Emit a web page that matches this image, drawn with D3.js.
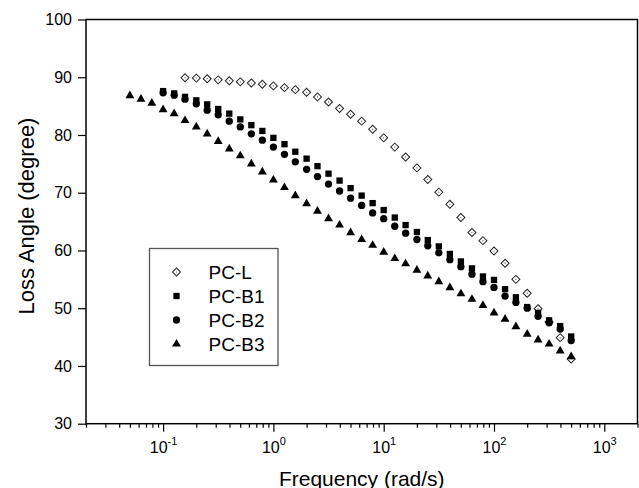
<!DOCTYPE html>
<html>
<head>
<meta charset="utf-8">
<script src="https://cdn.jsdelivr.net/npm/d3@7"></script>
<style>
  body { margin: 0; background: #fff; }
  svg { font-family: "Liberation Sans", Arial, sans-serif; }
</style>
</head>
<body>
<svg id="chart" width="639" height="488"></svg>
<script>
// frequencies (rad/s), 10 points per decade
const freq = [0.05, 0.063, 0.079, 0.1, 0.126, 0.158, 0.2, 0.251, 0.316, 0.398,
  0.501, 0.631, 0.794, 1, 1.26, 1.58, 2, 2.51, 3.16, 3.98,
  5.01, 6.31, 7.94, 10, 12.6, 15.8, 20, 25.1, 31.6, 39.8,
  50.1, 63.1, 79.4, 100, 126, 158, 200, 251, 316, 398, 501];

// loss angle (degree) for each sample
const pcL = [89.9, 89.85, 89.75, 89.55, 89.4, 89.2, 89.0, 88.8, 88.5, 88.2,
  87.85, 87.4, 86.6, 85.7, 84.6, 83.6, 82.4, 81.0, 79.5, 77.9,
  76.2, 74.3, 72.3, 70.1, 68.0, 65.7, 63.1, 61.7, 59.9, 57.8,
  55.0, 52.6, 49.9, 47.6, 44.9, 41.2];
const pcB1 = [87.6, 87.2, 86.6, 86.0, 85.3, 84.5, 83.7, 82.7, 81.7, 80.7,
  79.5, 78.4, 77.1, 75.9, 74.6, 73.3, 72.1, 70.8, 69.5, 68.2,
  67.0, 65.7, 64.4, 63.2, 61.8, 60.7, 59.4, 58.1, 56.9, 55.5,
  54.9, 53.3, 51.9, 50.2, 49.2, 47.9, 46.9, 45.1];
const pcB2 = [87.3, 86.9, 86.2, 85.4, 84.3, 83.5, 82.4, 81.4, 80.2, 79.1,
  77.9, 76.65, 75.35, 74.05, 72.8, 71.5, 70.3, 69.05, 67.8, 66.5,
  65.5, 64.2, 63.0, 61.9, 60.8, 59.6, 58.4, 57.2, 55.9, 54.6,
  53.6, 52.1, 51.0, 50.0, 48.6, 47.5, 46.4, 44.4];
const pcB3 = [86.8, 86.2, 85.5, 84.4, 83.7, 82.5, 81.4, 80.2, 78.9, 77.6,
  76.4, 75.0, 73.6, 72.2, 70.9, 69.5, 68.1, 66.8, 65.5, 64.4,
  63.1, 61.9, 60.9, 59.7, 58.6, 57.7, 56.6, 55.6, 54.6, 53.55,
  52.5, 51.55, 50.5, 49.2, 48.1, 46.8, 45.5, 44.5, 43.8, 42.6, 41.6];

const names = ["PC-L", "PC-B1", "PC-B2", "PC-B3"];
const xMajor = [0.1, 1, 10, 100, 1000];
const xExp = ["-1", "0", "1", "2", "3"];
const yTicks = [30, 40, 50, 60, 70, 80, 90, 100];

const svg = d3.select("#chart");
const mLeft = 86, mRight = 637.5, mTop = 19.5, mBottom = 423.7;

const x = d3.scaleLog().domain([0.02, 2000]).range([mLeft, mRight]);
const y = d3.scaleLinear().domain([30, 100]).range([mBottom, mTop]);

// minor ticks on the log axis
const xMinor = x.ticks().filter(v => xMajor.indexOf(v) < 0);

const gxMinor = svg.append("g")
  .attr("transform", "translate(0," + mBottom + ")")
  .call(d3.axisBottom(x).tickValues(xMinor).tickSize(4).tickFormat(""));
gxMinor.select(".domain").remove();

const gx = svg.append("g")
  .attr("transform", "translate(0," + mBottom + ")")
  .call(d3.axisBottom(x).tickValues(xMajor).tickSize(8).tickFormat(""));
gx.select(".domain").remove();
gx.selectAll(".tick text").remove();
gx.selectAll(".tick").append("text")
  .attr("y", 29.5)
  .attr("fill", "#000")
  .attr("font-size", 16)
  .attr("text-anchor", "middle")
  .each(function(d, i) {
    const t = d3.select(this);
    t.append("tspan").text("10");
    t.append("tspan").attr("dy", -8).attr("font-size", 11).text(xExp[i]);
  });

const gy = svg.append("g")
  .attr("transform", "translate(" + mLeft + ",0)")
  .call(d3.axisLeft(y).tickValues(yTicks).tickSize(8).tickPadding(6));
gy.select(".domain").remove();
gy.selectAll(".tick text").attr("font-size", 16).attr("fill", "#000")
  .attr("font-family", "Liberation Sans, Arial, sans-serif");

svg.selectAll(".tick line").attr("stroke", "#000").attr("stroke-width", 1.2);

// frame
svg.append("rect")
  .attr("x", mLeft).attr("y", mTop)
  .attr("width", mRight - mLeft).attr("height", mBottom - mTop)
  .attr("fill", "none").attr("stroke", "#000").attr("stroke-width", 1.5);

// axis titles
svg.append("text")
  .attr("x", (mLeft + mRight) / 2).attr("y", 486)
  .attr("text-anchor", "middle").attr("font-size", 21)
  .text("Frequency (rad/s)");
svg.append("text")
  .attr("transform", "translate(34,216) rotate(-90)")
  .attr("text-anchor", "middle").attr("font-size", 22)
  .text("Loss Angle (degree)");

// marker shapes
const sym = {
  square: d3.symbol(d3.symbolSquare, 40)(),
  circle: d3.symbol(d3.symbolCircle, 42)(),
  triangle: d3.symbol(d3.symbolTriangle, 34)(),
  diamond: d3.symbol(d3.symbolSquare, 32)()
};

function drawMarker(g, kind) {
  if (kind === "diamond") {
    g.append("path").attr("d", sym.diamond).attr("transform", "rotate(45)")
      .attr("fill", "#fff").attr("stroke", "#222").attr("stroke-width", 1);
    g.append("circle").attr("r", 0.6).attr("fill", "#444");
  } else {
    g.append("path").attr("d", sym[kind]).attr("fill", "#000");
  }
}

const series = [
  {name: names[0], vals: pcL, f: freq.slice(5), kind: "diamond"},
  {name: names[1], vals: pcB1, f: freq.slice(3), kind: "square"},
  {name: names[2], vals: pcB2, f: freq.slice(3), kind: "circle"},
  {name: names[3], vals: pcB3, f: freq, kind: "triangle"}
];

const plot = svg.append("g");
series.forEach(function(s) {
  plot.append("g").selectAll("g")
    .data(s.vals)
    .join("g")
    .attr("transform", (d, i) => "translate(" + x(s.f[i]) + "," + y(d) + ")")
    .each(function() { drawMarker(d3.select(this), s.kind); });
});

// legend
const lg = svg.append("g");
lg.append("rect")
  .attr("x", 149.5).attr("y", 248.5).attr("width", 128.5).attr("height", 117)
  .attr("fill", "#fff").attr("stroke", "#555").attr("stroke-width", 1.3);
series.forEach(function(s, i) {
  const row = lg.append("g").attr("transform", "translate(176.5," + (272 + i * 24) + ")");
  drawMarker(row, s.kind);
  row.append("text").attr("x", 32).attr("y", 7)
    .attr("font-size", 19).text(s.name);
});
</script>
</body>
</html>
